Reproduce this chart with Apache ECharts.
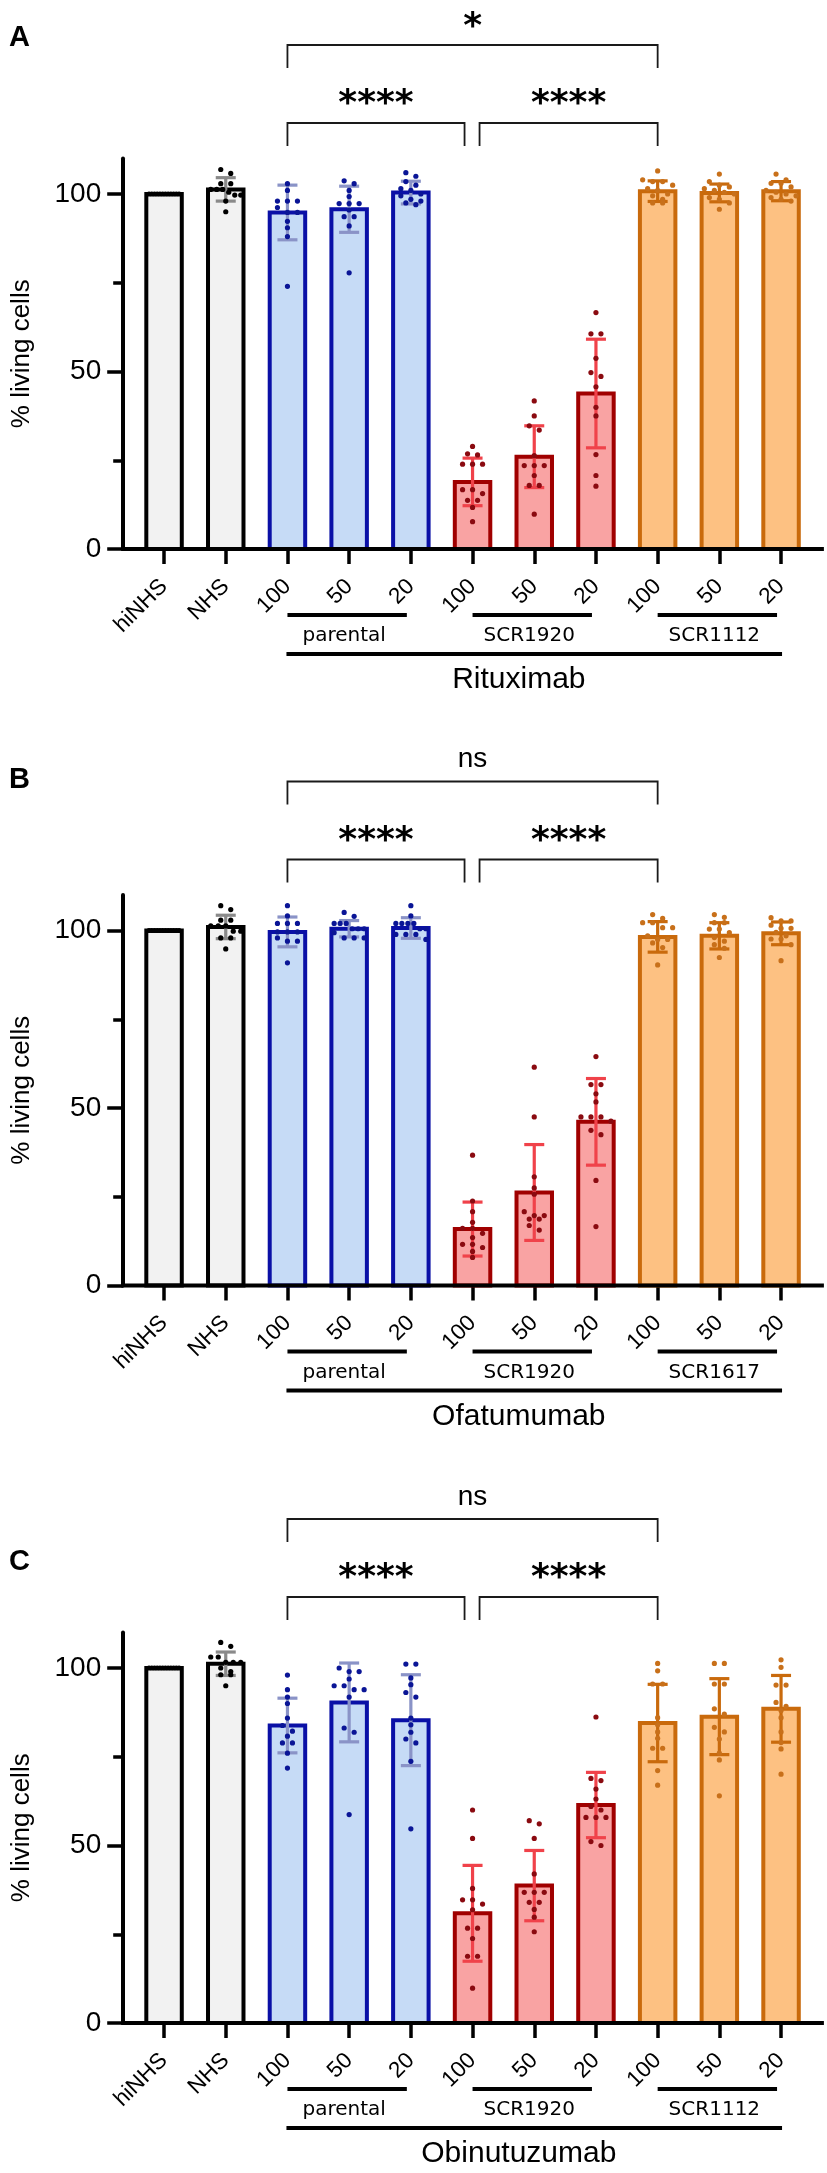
<!DOCTYPE html>
<html>
<head>
<meta charset="utf-8">
<title>% living cells</title>
<script src="https://cdn.jsdelivr.net/npm/echarts@6.0.0/dist/echarts.min.js"></script>
<style>
html, body { margin: 0; padding: 0; background: #fff; }
#chart { width: 827px; height: 2173px; }
</style>
</head>
<body>
<div id="chart"></div>
<script>
var categories = ['hiNHS', 'NHS', '100', '50', '20', '100', '50', '20', '100', '50', '20'];
var yTickValues = [0, 50, 100];
var yMinorTicks = [25, 75];
var groupOfBar = [0, 0, 1, 1, 1, 2, 2, 2, 3, 3, 3];
var bracketSpans = [[2, 8], [2, 5], [5, 8]];

// A - Rituximab
var ritMean = [100, 101.3, 94.8, 95.7, 100.4, 18.9, 26.0, 43.8, 100.8, 100.3, 100.8];
var ritSd = [0, 3.3, 7.7, 6.5, 3.2, 6.7, 8.7, 15.3, 2.9, 2.5, 2.7];
var ritPoints = [
    [100, 100, 100, 100, 100, 100, 100, 100, 100, 100, 100, 100],
    [106.9, 105.8, 102.9, 102.9, 101.3, 101.3, 101.3, 100.5, 99.7, 99.7, 98, 95],
    [102.9, 101, 98, 98, 98, 96.2, 94.8, 94.8, 92.3, 90.5, 88, 74],
    [103.7, 102.9, 101, 99.3, 97.3, 97.3, 97.3, 95.5, 93.6, 93.6, 91, 77.8],
    [106, 105, 103.5, 102.5, 101.5, 101, 100, 99.5, 98.5, 98, 97.5, 97],
    [28.9, 26.8, 26.5, 23.9, 23.9, 23.9, 16.7, 16.7, 15.6, 13.7, 13.7, 11.7, 7.7],
    [41.7, 37.5, 34.7, 33.5, 26.3, 23.5, 23.5, 23.5, 20.7, 17.9, 17.9, 9.8],
    [66.6, 60.6, 60.6, 53.7, 49.7, 48.6, 45.7, 39.9, 37.5, 26.6, 20.7, 17.7],
    [106.5, 104, 103.5, 103.5, 102.5, 101.5, 101, 100, 99.5, 98.5, 97.5, 97.5],
    [105.6, 103.5, 102.5, 102, 101.5, 101, 100.5, 100, 99, 98.5, 97.5, 95.7],
    [105.6, 104, 103, 103, 102, 101, 100.5, 100, 99.5, 99, 98.5, 98]
];

// B - Ofatumumab
var ofaMean = [100, 101.0, 99.6, 100.5, 100.7, 15.9, 26.2, 46.1, 98.2, 98.5, 99.2];
var ofaSd = [0, 3.3, 4.2, 2.3, 2.9, 7.6, 13.5, 12.2, 4.3, 3.7, 3.2];
var ofaPoints = [
    [100, 100, 100, 100, 100, 100, 100, 100, 100, 100, 100, 100],
    [107, 105.9, 102.9, 102.9, 101.3, 101.3, 101.3, 99.8, 99.8, 97.9, 97.9, 94.8],
    [107, 104.1, 102, 102, 102, 99.6, 99.6, 99.6, 97.9, 97, 97, 90.9],
    [105.1, 104, 102, 102, 102, 100.5, 100.5, 100.5, 99.4, 97.9, 97.9, 97.9],
    [107, 104.1, 102, 102, 102, 102, 100.5, 100.5, 98.9, 98.9, 98.9, 97.5],
    [36.7, 23.8, 20.8, 17.8, 16.1, 16.1, 14.7, 13.5, 11.6, 11.6, 10.7, 9.6, 7.9],
    [61.5, 47.5, 30.6, 27.5, 25.7, 20.8, 19.7, 19.7, 18.7, 18.7, 16.9, 15.6],
    [64.5, 56.6, 56.6, 54, 51.7, 47.5, 47.5, 47.5, 46.3, 43.7, 42.5, 29.6, 16.6],
    [104.5, 103.4, 102.2, 102.2, 100.8, 100.8, 98.5, 97.5, 97.5, 96.5, 95.2, 90.3],
    [104.5, 103.7, 102.2, 102.2, 100.4, 100.4, 99.4, 98, 97, 96, 95, 92.4],
    [103.6, 102.7, 102.7, 101.5, 100.6, 100.6, 99.5, 98.5, 97.6, 97.6, 96, 91.5]
];

// C - Obinutuzumab
var obiMean = [100, 101.2, 83.8, 90.3, 85.3, 30.9, 38.7, 61.4, 84.5, 86.3, 88.5];
var obiSd = [0, 3.3, 7.7, 11.1, 12.8, 13.5, 9.9, 9.2, 10.9, 10.7, 9.4];
var obiPoints = [
    [100, 100, 100, 100, 100, 100, 100, 100, 100, 100, 100, 100],
    [107.2, 106.1, 103.1, 103.1, 101.6, 101.6, 101.6, 100, 99, 98.1, 98.1, 95],
    [98, 93.9, 91.8, 90, 85.9, 83.8, 82.2, 80.8, 78.9, 78.9, 76, 71.8],
    [100, 99, 99, 96.9, 95, 95, 93.9, 93.9, 91.8, 83.1, 81.9, 58.7],
    [101.1, 101.1, 97.2, 95.3, 93.1, 91.8, 85.9, 84, 81.9, 80, 78.9, 73.7, 54.7],
    [60, 52, 37.9, 34.7, 34.7, 33.5, 31.9, 26.7, 26.7, 23.8, 18.8, 18.8, 9.8],
    [57, 56.1, 52, 42, 36.8, 36.8, 36.8, 34, 34, 32, 29.8, 25.7],
    [86.2, 68.9, 68.3, 65.9, 63.1, 61, 60, 57.9, 57.9, 57.9, 51.1, 50],
    [101.3, 99.2, 95.5, 95.5, 86, 84, 82, 80.2, 77.4, 77.4, 71.1, 67],
    [101.3, 101.3, 95.5, 95.5, 88.5, 87, 83.3, 82, 80, 76, 74.1, 64],
    [102.3, 100.2, 95.2, 95.2, 90.3, 89.2, 88, 86, 82, 79, 77.2, 70.1]
];

var panels = [
    { letter: 'A', letterTop: 23, drug: 'Rituximab', groups: ['parental', 'SCR1920', 'SCR1112'], signif: ['*', '****', '****'], mean: ritMean, sd: ritSd, points: ritPoints },
    { letter: 'B', letterTop: 765, drug: 'Ofatumumab', groups: ['parental', 'SCR1920', 'SCR1617'], signif: ['ns', '****', '****'], mean: ofaMean, sd: ofaSd, points: ofaPoints },
    { letter: 'C', letterTop: 1547, drug: 'Obinutuzumab', groups: ['parental', 'SCR1920', 'SCR1112'], signif: ['ns', '****', '****'], mean: obiMean, sd: obiSd, points: obiPoints }
];

var fills = ['#f2f2f2', '#c6dbf6', '#f9a3a3', '#fdc182'];
var borders = ['#000000', '#0a10a6', '#a00000', '#c96a0c'];
var errColors = ['#8a8a8a', '#8a93c7', '#f0424a', '#c96a0c'];
var dotColors = ['#000000', '#0a1596', '#8a0a10', '#c8701a'];
var zeroY = [549, 1285.5, 2023];
var unitPx = 3.55, yMax = 110;
var sansFont = "'Liberation Sans', Arial, sans-serif";

// spread points that sit at nearly the same value side by side
function swarm(values) {
    var order = values.map(function (v, i) { return i; })
        .sort(function (a, b) { return values[b] - values[a]; });
    var dx = [], k = 0;
    while (k < order.length) {
        var start = values[order[k]], run = [order[k]];
        k++;
        while (k < order.length && start - values[order[k]] < 1.6) { run.push(order[k]); k++; }
        var n = run.length, s = n > 1 ? Math.min(10, 30 / (n - 1)) : 0;
        run.forEach(function (idx, r) { dx[idx] = (r - (n - 1) / 2) * s; });
    }
    return dx;
}

function renderBar(params, api) {
    var j = api.value(0), top = api.coord([j, api.value(1)]), base = api.coord([j, 0]);
    var w = api.size([1, 0])[0] * 0.575, g = groupOfBar[j];
    return {
        type: 'rect',
        shape: { x: top[0] - w / 2, y: top[1], width: w, height: base[1] - top[1] },
        style: { fill: fills[g], stroke: borders[g], lineWidth: 4 }
    };
}

function renderErr(params, api) {
    var j = api.value(0), m = api.value(1), s = api.value(2);
    if (!s) return null;
    var hi = api.coord([j, m + s]), lo = api.coord([j, m - s]);
    var x = hi[0], cap = 10, st = { stroke: errColors[groupOfBar[j]], lineWidth: 3.2 };
    return {
        type: 'group', children: [
            { type: 'line', shape: { x1: x, y1: hi[1], x2: x, y2: lo[1] }, style: st },
            { type: 'line', shape: { x1: x - cap, y1: hi[1], x2: x + cap, y2: hi[1] }, style: st },
            { type: 'line', shape: { x1: x - cap, y1: lo[1], x2: x + cap, y2: lo[1] }, style: st }
        ]
    };
}

function renderPoint(params, api) {
    var c = api.coord([api.value(0), api.value(1)]);
    return {
        type: 'circle',
        shape: { cx: c[0] + api.value(2), cy: c[1], r: 2.6 },
        style: { fill: dotColors[groupOfBar[api.value(0)]] }
    };
}

function seg(x1, y1, x2, y2, color, width) {
    return { type: 'line', shape: { x1: x1, y1: y1, x2: x2, y2: y2 }, style: { stroke: color, lineWidth: width } };
}
function label(text, x, y, font) {
    return { type: 'text', style: { text: text, x: x, y: y, font: font, fill: '#000', align: 'center', verticalAlign: 'middle' } };
}

function makeDecor(panel) {
    return function (params, api) {
        var band = api.size([1, 0])[0];
        var y0 = api.coord([0, 0])[1];
        var cx = function (j) { return api.coord([j, 0])[0]; };
        var kids = [];
        // x axis baseline, running under the offset y axis
        kids.push(seg(cx(0) - band / 2 - 12, y0, cx(categories.length - 1) + band / 2 + 12, y0, '#000', 4));
        // comparison brackets
        bracketSpans.forEach(function (sp, b) {
            var x1 = cx(sp[0]), x2 = cx(sp[1]);
            var yt = b === 0 ? y0 - 504 : y0 - 426, yl = b === 0 ? y0 - 481 : y0 - 403;
            if (b === 1) x2 -= 8;
            if (b === 2) x1 += 7;
            kids.push({
                type: 'polyline',
                shape: { points: [[x1, yl], [x1, yt], [x2, yt], [x2, yl]] },
                style: { stroke: '#1a1a1a', lineWidth: 1.8, fill: null }
            });
            var txt = panel.signif[b], ty = b === 0 ? y0 - 528.5 : y0 - 451;
            if (txt === 'ns') kids.push(label(txt, (x1 + x2) / 2, ty + 2.5, '28px ' + sansFont));
            else kids.push(label(txt, (x1 + x2) / 2, ty + 7, "bold 36px 'DejaVu Sans'"));
        });
        // group underlines and names
        [2, 5, 8].forEach(function (i, k) {
            var x1 = cx(i), x2 = cx(i + 2) - 4;
            kids.push(seg(x1, y0 + 66, x2, y0 + 66, '#000', 4));
            kids.push(label(panel.groups[k], (x1 + x2) / 2 - 3, y0 + 87, "20px 'DejaVu Sans'"));
        });
        kids.push(seg(cx(2) - 1, y0 + 105, cx(10) + 1, y0 + 105, '#000', 4));
        kids.push(label(panel.drug, cx(5) + band * 0.75, y0 + 131, '30px ' + sansFont));
        return { type: 'group', children: kids };
    };
}

var option = { animation: false, backgroundColor: '#fff', title: [], grid: [], xAxis: [], yAxis: [], series: [] };

panels.forEach(function (panel, p) {
    option.title.push({
        text: panel.letter, left: 9, top: panel.letterTop, padding: 0,
        textStyle: { fontSize: 29, fontWeight: 'bold', color: '#000', fontFamily: sansFont }
    });
    option.grid.push({ left: 133.2, width: 678.7, top: zeroY[p] - yMax * unitPx, height: yMax * unitPx });
    option.xAxis.push({
        type: 'category', gridIndex: p, data: categories,
        axisLine: { show: false },
        axisTick: { show: true, alignWithLabel: true, length: 15, lineStyle: { color: '#000', width: 3.5 } },
        axisLabel: { rotate: 45, interval: 0, fontSize: 22.5, margin: 34, color: '#000', fontFamily: sansFont },
        splitLine: { show: false }
    });
    option.yAxis.push({
        type: 'value', gridIndex: p, min: 0, max: yMax, offset: 10, position: 'left',
        name: '% living cells', nameLocation: 'middle', nameGap: 88,
        nameTextStyle: { fontSize: 26, color: '#000', fontFamily: sansFont },
        axisLine: { show: true, lineStyle: { color: '#000', width: 4 } },
        axisTick: { show: true, length: 16, customValues: yTickValues, lineStyle: { color: '#000', width: 3.5 } },
        axisLabel: { customValues: yTickValues, fontSize: 28, margin: 22, color: '#000', fontFamily: sansFont },
        splitLine: { show: false }
    });
    option.yAxis.push({
        type: 'value', gridIndex: p, min: 0, max: yMax, offset: 10, position: 'left',
        axisLine: { show: false },
        axisTick: { show: true, length: 10, customValues: yMinorTicks, lineStyle: { color: '#000', width: 3.5 } },
        axisLabel: { show: false },
        splitLine: { show: false }
    });

    var barData = panel.mean.map(function (m, j) { return [j, m, panel.sd[j]]; });
    var pointData = [];
    panel.points.forEach(function (vals, j) {
        var dx = swarm(vals);
        vals.forEach(function (v, r) { pointData.push([j, v, dx[r]]); });
    });
    var axes = { xAxisIndex: p, yAxisIndex: 2 * p };
    option.series.push(Object.assign({ type: 'custom', name: panel.drug + ' bars', renderItem: renderBar, data: barData, z: 2 }, axes));
    option.series.push(Object.assign({ type: 'custom', name: panel.drug + ' SD', renderItem: renderErr, data: barData, z: 3 }, axes));
    option.series.push(Object.assign({ type: 'custom', name: panel.drug + ' points', renderItem: renderPoint, data: pointData, z: 4 }, axes));
    option.series.push(Object.assign({ type: 'custom', name: panel.drug + ' labels', renderItem: makeDecor(panel), data: [[0, 0]], clip: false, silent: true, z: 5 }, axes));
});

var chart = echarts.init(document.getElementById('chart'), null, { renderer: 'canvas' });
chart.setOption(option);
window.onresize = chart.resize;
</script>
</body>
</html>
